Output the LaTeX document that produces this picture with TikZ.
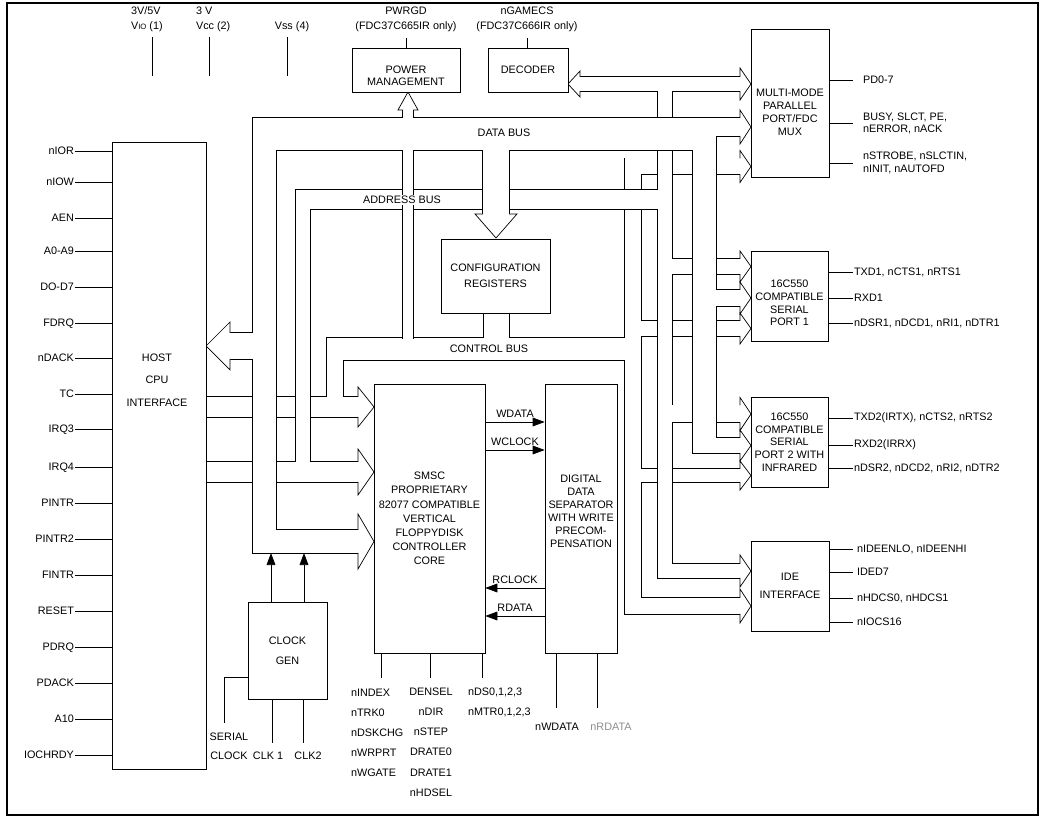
\documentclass[tikz,border=0pt]{standalone}
\usepackage{fontspec}
\setmainfont{Liberation Sans}
\usetikzlibrary{arrows.meta,positioning}
\newcommand\pxu{0.025cm}
\newcommand\buslw{0.5pt}
\newcommand\fs{\fontsize{7.7pt}{9.2pt}\selectfont}
\newcommand\fsl[1]{\fontsize{7.7pt}{#1}\selectfont}

% hollow bus heads: tip x, tip y, half shaft, wing, length
\newcommand\headR[5]{\filldraw[hollow] (#1-#5,#2-#3) -- (#1-#5,#2-#3-#4) -- (#1,#2) -- (#1-#5,#2+#3+#4) -- (#1-#5,#2+#3);}
\newcommand\headL[5]{\filldraw[hollow] (#1+#5,#2-#3) -- (#1+#5,#2-#3-#4) -- (#1,#2) -- (#1+#5,#2+#3+#4) -- (#1+#5,#2+#3);}
\newcommand\headU[5]{\filldraw[hollow] (#1-#3,#2+#5) -- (#1-#3-#4,#2+#5) -- (#1,#2) -- (#1+#3+#4,#2+#5) -- (#1+#3,#2+#5);}
\newcommand\headD[5]{\filldraw[hollow] (#1-#3,#2-#5) -- (#1-#3-#4,#2-#5) -- (#1,#2) -- (#1+#3+#4,#2-#5) -- (#1+#3,#2-#5);}

% buses, each drawn twice: wide black, then narrow white
\newcommand\CtrlBus[1]{%
  \draw[#1=16] (335,407) -- (335,346) -- (350,346);
  \draw[#1=22] (335,349) -- (633,349);
  \draw[#1=20] (206,407) -- (358,407);
  \draw[#1=16] (740,166.5) -- (633,166.5) -- (633,606) -- (740,606);
  \draw[#1=25] (496.5,349) -- (496.5,313);
  \draw[#1=15] (633,328.5) -- (740,328.5);
  \draw[#1=13] (633,475.5) -- (740,475.5);
}
\newcommand\AddrBus[1]{%
  \draw[#1=14] (303,472) -- (303,197) -- (320,197);
  \draw[#1=19] (303,199.5) -- (665,199.5);
  \draw[#1=20] (206,472) -- (358,472);
  \draw[#1=14] (580,84) -- (740,84);
  \draw[#1=14] (665,84) -- (665,571) -- (740,571);
  \draw[#1=15] (665,266.5) -- (740,266.5);
  \draw[#1=17] (665,414) -- (740,414);
}
\newcommand\DataBus[1]{%
  \draw[#1=23] (358,541.5) -- (264.5,541.5) -- (264.5,129.5) -- (290,129.5);
  \draw[#1=32] (264.5,134) -- (704.5,134);
  \draw[#1=23] (680,129.5) -- (704.5,129.5) -- (704.5,445.5);
  \draw[#1=15] (700.5,420) -- (700.5,445.5) -- (740,445.5);
  \draw[#1=18] (704.5,127) -- (740,127);
  \draw[#1=26] (264.5,346) -- (230,346);
  \draw[#1=26] (496,134) -- (496,214);
  \draw[#1=10] (408,339) -- (408,110);
  \draw[#1=16] (704.5,298) -- (740,298);
}

\begin{document}
\begin{tikzpicture}[
    x=\pxu, y=-\pxu, line width=\buslw,
    txt/.style={font=\fs,inner sep=0.5pt},
    blk/.style={draw,fill=white,inner sep=0pt,align=center,font=\fs},
    pinL/.style={txt,anchor=east,text height=5.6pt,text depth=0pt},
    pinR/.style={txt,anchor=west},
    sig/.style={-{Triangle[length=0.3cm,width=0.22cm]}},
    hollow/.style={draw,fill=white,line join=miter},
    busO/.code={\pgfmathsetlengthmacro\buswd{#1*0.025cm+1.1pt}%
      \pgfkeysalso{/tikz/draw=black,/tikz/line width=\buswd,/tikz/line cap=butt}},
    busI/.code={\pgfmathsetlengthmacro\buswd{#1*0.025cm}%
      \pgfkeysalso{/tikz/draw=white,/tikz/line width=\buswd,/tikz/line cap=butt}}]
  \useasboundingbox (0,0) rectangle (1042,820);
  \draw[line width=1.1pt] (7,3) rectangle (1038,815);

  % buses
  \CtrlBus{busO}\CtrlBus{busI}
  \AddrBus{busO}\AddrBus{busI}
  \DataBus{busO}\DataBus{busI}

  \headL{206}{346}{13}{11}{24}
  \headD{496}{238}{13}{8}{24}
  \headU{408}{92}{5}{5}{18}
  \headL{568}{84}{7}{6}{12}
  \headR{751}{84}{7}{9}{11}
  \headR{751}{127}{9}{8}{11}
  \headR{751}{166.5}{8}{8}{11}
  \headR{751}{266.5}{7.5}{8}{11}
  \headR{751}{298}{8}{8}{11}
  \headR{751}{328.5}{7.5}{8}{11}
  \headR{751}{414}{8.5}{8}{11}
  \headR{751}{445.5}{7.5}{8}{11}
  \headR{751}{475.5}{6.5}{8}{11}
  \headR{751}{571}{7}{9}{11}
  \headR{751}{606}{8}{9}{11}
  \headR{374}{407}{10}{10}{16}
  \headR{374}{472}{10}{13}{16}
  \headR{374}{541.5}{11.5}{16}{16}

  % blocks
  \node[blk,minimum width=94*\pxu,minimum height=627*\pxu] (host) at (159,455.5) {};
  \node[txt,align=center,font=\fsl{16pt}] (hosttxt) at (157,380) {HOST\\CPU\\INTERFACE};
  \node[blk,minimum width=108*\pxu,minimum height=44*\pxu] (pm) at (406,70) {};
  \node[txt,align=center,font=\fsl{8.6pt}] (pmtxt) at ([yshift=-6*\pxu]pm.center) {POWER\\MANAGEMENT};
  \node[blk,minimum width=80*\pxu,minimum height=44*\pxu] (dec) at (528,70) {DECODER};
  \node[blk,minimum width=78*\pxu,minimum height=148*\pxu] (mux) at (790,103) {};
  \node[txt,align=center,font=\fsl{9.2pt}] (muxtxt) at ([yshift=-9.5*\pxu]mux.center) {MULTI-MODE\\PARALLEL\\PORT/FDC\\MUX};
  \node[blk,minimum width=109*\pxu,minimum height=74*\pxu,font=\fsl{11.4pt}] (cfg) at (495.5,276) {CONFIGURATION\\REGISTERS};
  \node[blk,minimum width=77*\pxu,minimum height=90*\pxu] (sp1) at (789.5,296) {};
  \node[txt,align=center,font=\fsl{9pt}] (sp1txt) at ([yshift=-7*\pxu]sp1.center) {16C550\\COMPATIBLE\\SERIAL\\PORT 1};
  \node[blk,minimum width=77*\pxu,minimum height=90*\pxu,font=\fsl{9pt}] (sp2) at (789.5,442) {16C550\\COMPATIBLE\\SERIAL\\PORT 2 WITH\\INFRARED};
  \node[blk,minimum width=78*\pxu,minimum height=90*\pxu,font=\fsl{12.8pt}] (ide) at (790,586) {IDE\\INTERFACE};
  \node[blk,minimum width=111*\pxu,minimum height=269*\pxu,font=\fsl{10.1pt}] (fdc) at (429.5,518.5) {SMSC\\PROPRIETARY\\82077 COMPATIBLE\\VERTICAL\\FLOPPYDISK\\CONTROLLER\\CORE};
  \node[blk,minimum width=72*\pxu,minimum height=269*\pxu] (dds) at (581,518.5) {};
  \node[txt,align=center,font=\fsl{9.2pt}] (ddstxt) at ([yshift=7*\pxu]dds.center) {DIGITAL\\DATA\\SEPARATOR\\WITH WRITE\\PRECOM-\\PENSATION};
  \node[blk,minimum width=79*\pxu,minimum height=97*\pxu,font=\fsl{14.2pt}] (clk) at (287.5,650.5) {CLOCK\\GEN};

  % bus names
  \node[txt] (dbl) at (504,133) {DATA BUS};
  \node[txt,fill=white] (abl) at (402,200) {ADDRESS BUS};
  \node[txt] (cbl) at (489,349) {CONTROL BUS};

  % supply and top pins
  \node[txt,align=left,anchor=west,font=\fsl{10.7pt}] (vio) at (130,19.5) {3V/5V\\V{\fontsize{5.5pt}{6pt}\selectfont IO} (1)};
  \node[txt,align=left,anchor=west,font=\fsl{10.7pt}] (vcc) at (195,19.5) {3 V\\Vcc (2)};
  \node[txt] (vss) at (292,27) {Vss (4)};
  \coordinate (vioS) at (152,37); \coordinate (vioE) at (152,76);
  \coordinate (vccS) at (209,37); \coordinate (vccE) at (209,76);
  \coordinate (vssS) at (287,37); \coordinate (vssE) at (287,76);
  \draw (vioS) -- (vioE); \draw (vccS) -- (vccE); \draw (vssS) -- (vssE);
  \node[txt,align=center,font=\fsl{10.7pt}] (pwrgd) at (406,19.5) {PWRGD\\(FDC37C665IR only)};
  \node[txt,align=center,font=\fsl{10.7pt}] (gamecs) at (527,19.5) {nGAMECS\\(FDC37C666IR only)};
  \draw ([yshift=-5*\pxu]pwrgd.south) -- (pwrgd.south |- pm.north);
  \draw ([yshift=-5*\pxu]gamecs.south) -- (gamecs.south |- dec.north);

  % host pins
  \foreach \yy/\nm [count=\i] in {151/nIOR,182/nIOW,218/AEN,251/A0-A9,287/DO-D7,323/FDRQ,358/nDACK,394/TC,429/IRQ3,467/IRQ4,503/PINTR,539/PINTR2,575/FINTR,611/RESET,647/PDRQ,683/PDACK,719/A10,755/IOCHRDY}
  {\node[pinL] (pin\i) at (75,\yy) {\nm};
   \draw (pin\i.east) -- (pin\i.east -| host.west);}

  % parallel port pins
  \node[pinR] (pd) at (862,80) {PD0-7};
  \node[pinR,align=left,font=\fsl{8.6pt}] (busy) at (862,123) {BUSY, SLCT, PE,\\nERROR, nACK};
  \node[pinR,align=left,font=\fsl{9.2pt}] (strb) at (862,163) {nSTROBE, nSLCTIN,\\nINIT, nAUTOFD};
  \foreach \n in {pd,busy,strb} \draw (mux.east |- \n.west) -- ++(24,0);

  % serial port pins
  \node[pinR] (s1a) at (853,272) {TXD1, nCTS1, nRTS1};
  \node[pinR] (s1b) at (853,298) {RXD1};
  \node[pinR] (s1c) at (853,323) {nDSR1, nDCD1, nRI1, nDTR1};
  \foreach \n in {s1a,s1b,s1c} \draw (sp1.east |- \n.west) -- (\n.west);
  \node[pinR] (s2a) at (853,418) {TXD2(IRTX), nCTS2, nRTS2};
  \node[pinR] (s2b) at (853,445) {RXD2(IRRX)};
  \node[pinR] (s2c) at (853,468) {nDSR2, nDCD2, nRI2, nDTR2};
  \foreach \n in {s2a,s2b,s2c} \draw (sp2.east |- \n.west) -- (\n.west);

  % IDE pins
  \node[pinR] (i1) at (856,549) {nIDEENLO, nIDEENHI};
  \node[pinR] (i2) at (856,572) {IDED7};
  \node[pinR] (i3) at (856,598) {nHDCS0, nHDCS1};
  \node[pinR] (i4) at (856,622) {nIOCS16};
  \foreach \n in {i1,i2,i3,i4} \draw (ide.east |- \n.west) -- ++(24,0);

  % FDC <-> data separator
  \draw[sig] ([yshift=96.5*\pxu]fdc.east) -- node[txt,above=3*\pxu] (wdl) {WDATA} ([yshift=96.5*\pxu]dds.west);
  \draw[sig] ([yshift=68.5*\pxu]fdc.east) -- node[txt,above=3*\pxu] (wcl) {WCLOCK} ([yshift=68.5*\pxu]dds.west);
  \draw[sig] ([yshift=-69.5*\pxu]dds.west) -- node[txt,above=3*\pxu] (rcl) {RCLOCK} ([yshift=-69.5*\pxu]fdc.east);
  \draw[sig] ([yshift=-97.5*\pxu]dds.west) -- node[txt,above=3*\pxu] (rdl) {RDATA} ([yshift=-97.5*\pxu]fdc.east);

  % clock generator
  \coordinate (ck1) at (271,553); \coordinate (ck2) at (304,553);
  \draw[sig] (clk.north -| ck1) -- (ck1);
  \draw[sig] (clk.north -| ck2) -- (ck2);
  \coordinate (clkS1) at (272,743); \coordinate (clkS2) at (303,743);
  \draw (clk.south -| clkS1) -- (clkS1);
  \draw (clk.south -| clkS2) -- (clkS2);
  \coordinate (serS) at (224,723);
  \draw ([yshift=-26.5*\pxu]clk.west) -| (serS);
  \node[txt,align=center,anchor=north,font=\fsl{13.5pt}] (serl) at (229,732) {SERIAL\\CLOCK};
  \node[txt] (ck1l) at (268,756) {CLK 1};
  \node[txt] (ck2l) at (308,756) {CLK2};

  % floppy drive pins
  \coordinate (fdcS1) at (381,678); \coordinate (fdcS2) at (430,678); \coordinate (fdcS3) at (482,678);
  \foreach \c in {fdcS1,fdcS2,fdcS3} \draw (fdc.south -| \c) -- (\c);
  \node[txt,align=left,anchor=north west,font=\fsl{14.2pt}] (fdcA) at (350,688) {nINDEX\\nTRK0\\nDSKCHG\\nWRPRT\\nWGATE};
  \node[txt,align=center,anchor=north,font=\fsl{14.3pt}] (fdcB) at (431,687) {DENSEL\\nDIR\\nSTEP\\DRATE0\\DRATE1\\nHDSEL};
  \node[txt,align=left,anchor=north west,font=\fsl{14.2pt}] (fdcC) at (467,687) {nDS0,1,2,3\\nMTR0,1,2,3};
  \coordinate (ddsS1) at (556,708); \coordinate (ddsS2) at (597,708);
  \draw (dds.south -| ddsS1) -- (ddsS1);
  \draw (dds.south -| ddsS2) -- (ddsS2);
  \node[txt] (wdp) at (557,727) {nWDATA};
  \node[txt,text=black!45] (rdp) at (611,727) {nRDATA};
\end{tikzpicture}
\end{document}
